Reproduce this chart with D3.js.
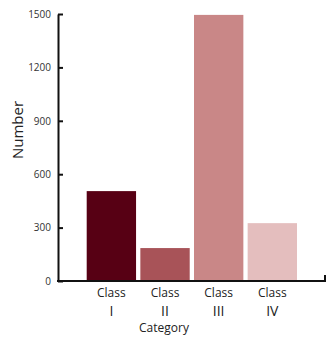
<!DOCTYPE html>
<html><head><meta charset="utf-8">
<script src="https://cdn.jsdelivr.net/npm/d3@7"></script>
<style>body{margin:0;background:#fff}svg{display:block}text{font-family:"Open Sans",sans-serif}</style>
</head><body>
<svg id="c" width="326" height="337"></svg>
<script>
const categories = ["Class I", "Class II", "Class III", "Class IV"];
const values = [505, 185, 1495, 325];
const colors = ["#570014", "#a85358", "#c98787", "#e4bebe"];
const yTicks = [0, 300, 600, 900, 1200, 1500];

const svg = d3.select("#c");
const x0 = 58, x1 = 325, yBottom = 281, yTop = 14;
const x = d3.scaleBand().domain(categories).range([86.7, 297]).paddingInner(0.08).paddingOuter(0);
const y = d3.scaleLinear().domain([0, 1500]).range([yBottom, yTop]);

svg.selectAll("rect.bar").data(values).enter().append("rect")
  .attr("class", "bar")
  .attr("x", (d, i) => x(categories[i]))
  .attr("width", x.bandwidth())
  .attr("y", d => y(d))
  .attr("height", d => yBottom - y(d))
  .attr("fill", (d, i) => colors[i]);

// y axis
const ya = svg.append("g").attr("transform", `translate(${x0},0)`)
  .call(d3.axisLeft(y).tickValues(yTicks).tickFormat(d3.format("d")).tickSize(-5).tickPadding(7).tickSizeOuter(0));
ya.select(".domain").attr("stroke", "#111").attr("stroke-width", 2);
ya.selectAll(".tick line").attr("stroke", "#111").attr("stroke-width", 2);
ya.selectAll(".tick text").attr("font-size", 10).attr("fill", "#333").attr("font-family", "'Open Sans',sans-serif");

// x axis line
svg.append("path").attr("d", `M${x0-1},${yBottom}H${x1}V${yBottom-6}`)
  .attr("fill", "none").attr("stroke", "#111").attr("stroke-width", 2);

// x labels
categories.forEach(c => {
  const parts = c.split(" ");
  const cx = x(c) + x.bandwidth() / 2;
  svg.append("text").attr("x", cx).attr("y", 297).attr("text-anchor", "middle")
    .attr("font-size", 12).attr("fill", "#222").text(parts[0]);
  svg.append("text").attr("x", cx).attr("y", 316).attr("text-anchor", "middle")
    .attr("font-size", 14).attr("fill", "#222").text(parts[1]);
});

svg.append("text").attr("x", 164).attr("y", 332).attr("text-anchor", "middle")
  .attr("font-size", 12).attr("fill", "#222").text("Category");

svg.append("text").attr("transform", "translate(23,130) rotate(-90)")
  .attr("text-anchor", "middle").attr("font-size", 15).attr("fill", "#222").text("Number");
</script>
</body></html>
